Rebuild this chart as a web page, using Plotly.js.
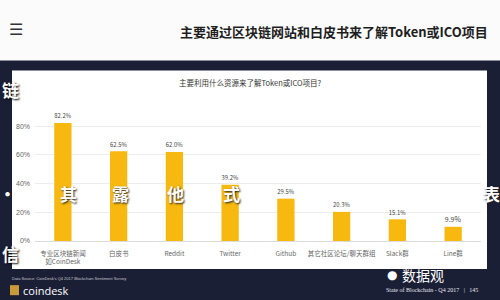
<!DOCTYPE html>
<html>
<head>
<meta charset="utf-8">
<script src="https://cdn.plot.ly/plotly-3.0.1.min.js"></script>
<style>html,body{margin:0;padding:0;background:#1b1f36;}#chart{width:500px;height:300px;}</style>
</head>
<body>
<div id="chart"></div>
<script>
// ---- data ----
var categories = ['专业区块链新闻<br>如CoinDesk', '白皮书', 'Reddit', 'Twitter', 'Github', '其它社区论坛/聊天群组', 'Slack群', 'Line群'];
var shares = [82.2, 62.5, 62.0, 39.2, 29.5, 20.3, 15.1, 9.9];
var valueLabels = ['82.2%', '62.5%', '62.0%', '39.2%', '29.5%', '20.3%', '15.1%', '9.9%'];
var yTicks = [0, 20, 40, 60, 80];
var yTickLabels = ['0%', '20%', '40%', '60%', '80%'];
var headline = '主要通过区块链网站和白皮书来了解Token或ICO项目';
var chartTitle = '主要利用什么资源来了解Token或ICO项目?';
var sourceText = "Data Source: CoinDesk's Q4 2017 Blockchain Sentiment Survey";
var footerText = 'State of Blockchain - Q4 2017  &nbsp;|&nbsp;  145';
var overlayChars = ['·', '其', '露', '他', '式', '表'];

// ---- pixel helpers (layout only) ----
var L = 35, R = 19, T = 119.4, B = 59, Wd = 500, Ht = 300;
var PW = Wd - L - R, PH = Ht - T - B;
function X(px) { return (px - L) / PW; }
function Y(py) { return (Ht - B - py) / PH; }

var CJK = '"Noto Sans CJK SC", "Noto Sans", sans-serif';
var navy = '#1b1f36';

var trace = {
  type: 'bar',
  x: categories,
  y: shares,
  text: valueLabels,
  textposition: 'outside',
  cliponaxis: false,
  textfont: {family: CJK, size: 7, color: '#444'},
  marker: {color: '#f7b90f'},
  hoverinfo: 'none'
};

var shapes = [
  {type: 'rect', xref: 'paper', yref: 'paper', x0: X(0), x1: X(500), y0: Y(61), y1: Y(0), fillcolor: '#fbfbfb', line: {width: 0}, layer: 'below'},
  {type: 'rect', xref: 'paper', yref: 'paper', x0: X(12), x1: X(487), y0: Y(269), y1: Y(71), fillcolor: '#ffffff', line: {width: 0}, layer: 'below'},
  {type: 'rect', xref: 'paper', yref: 'paper', x0: X(10), x1: X(19), y0: Y(295), y1: Y(285), fillcolor: '#c99a3a', line: {width: 0}, layer: 'above'}
];

function ann(text, px, py, xa, font) {
  return {text: text, x: X(px), y: Y(py), xref: 'paper', yref: 'paper', xanchor: xa, yanchor: 'middle', showarrow: false, font: font};
}

var ov = [[7, 194], [68, 194], [120, 194], [175, 194], [231, 194], [491, 194]];
var annotations = [
  ann('☰', 16, 30, 'center', {family: 'DejaVu Sans', size: 16, color: '#333'}),
  ann('<b>' + headline + '</b>', 490, 32, 'right', {family: CJK, size: 13, color: '#1e1e1e'}),
  ann(chartTitle, 250, 83, 'center', {family: CJK, size: 7.5, color: '#333'}),
  ann(sourceText, 10, 278, 'left', {family: 'Liberation Sans', size: 4, color: '#c8c8d0'}),
  ann('coindesk', 21, 290, 'left', {family: 'Open Sans, sans-serif', size: 11, color: '#ffffff'}),
  ann('●', 392, 275, 'center', {family: 'DejaVu Sans', size: 12, color: '#ffffff'}),
  ann('数据观', 400, 275, 'left', {family: CJK, size: 14, color: '#ffffff'}),
  ann(footerText, 480, 290, 'right', {family: 'Liberation Serif', size: 6, color: '#e6e6ea'}),
  ann('<b>链</b>', 10, 90, 'center', {family: CJK, size: 17, color: '#ffffff', shadow: '1px 1px 2px #000'}),
  ann('<b>信</b>', 10, 253, 'center', {family: CJK, size: 17, color: '#ffffff', shadow: '1px 1px 2px #000'})
];
overlayChars.forEach(function (c, i) {
  annotations.push(ann('<b>' + c + '</b>', ov[i][0], ov[i][1], 'center',
    {family: CJK, size: 17, color: '#ffffff', shadow: '1px 1px 2px #222'}));
});

var layout = {
  width: Wd, height: Ht,
  margin: {l: L, r: R, t: T, b: B, pad: 0},
  paper_bgcolor: navy,
  plot_bgcolor: 'rgba(0,0,0,0)',
  bargap: 0.69,
  showlegend: false,
  font: {family: CJK},
  xaxis: {
    type: 'category', tickfont: {family: CJK, size: 6.5, color: '#666'},
    showgrid: false, zeroline: false, showline: false, ticks: '', automargin: false,
    ticklabelstandoff: 7
  },
  yaxis: {
    range: [0, 85], tickvals: yTicks, ticktext: yTickLabels,
    tickfont: {family: 'Liberation Sans', size: 7, color: '#666'},
    gridcolor: '#ececec', gridwidth: 1, zeroline: true, zerolinecolor: '#dcdcdc',
    showline: false, ticks: '', ticklabelstandoff: 4, automargin: false
  },
  shapes: shapes,
  annotations: annotations
};

Plotly.newPlot('chart', [trace], layout, {staticPlot: true, displayModeBar: false});
</script>
</body>
</html>
